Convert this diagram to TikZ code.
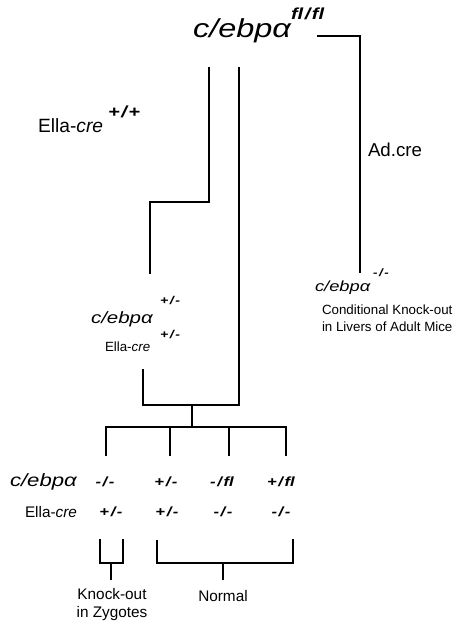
\documentclass[tikz,border=0pt]{standalone}
\usepackage{fontspec}
\setmainfont{Liberation Sans}
\newfontfamily\wsf[FakeStretch=1.25]{Liberation Sans}
\tikzset{
  lbl/.style={inner sep=0pt, outer sep=0pt},
  gene/.style={lbl, font=\wsf\itshape},
  geno/.style={lbl, font=\wsf\bfseries\itshape\fontsize{10}{12}\selectfont},
  pline/.style={line width=1pt, line cap=rect}
}
\newcommand{\sep}{\kern1.2pt/\kern1.2pt}
\begin{document}
\begin{tikzpicture}[x=0.75pt,y=-0.75pt]
\useasboundingbox (0,0) rectangle (473,624);
% top parent
\node[gene, anchor=base west, font=\wsf\itshape\fontsize{19.5}{22}\selectfont] (top) at (193,38) {c/ebp\char"03B1};
\node[geno, anchor=west, font=\wsf\bfseries\itshape\fontsize{12}{14}\selectfont] (topsup) at (291,14) {f{}l\sep f{}l};
% Ad.cre branch
\coordinate (a1) at (318,36);
\coordinate (a2) at (360,36);
\coordinate (a3) at (360,272);
\draw[pline] (a1) -- (a2) -- (a3);
\node[lbl, font=\fontsize{14}{16}\selectfont] (adcre) at (395,150) {Ad.cre};
% conditional KO
\node[gene, anchor=base west, font=\wsf\itshape\fontsize{11}{13}\selectfont] (cko) at (315,291) {c/ebp\char"03B1};
\node[geno, anchor=west, font=\wsf\bfseries\itshape\fontsize{8}{9}\selectfont] (ckosup) at (373,273) {-\sep-};
\node[lbl, anchor=west, align=left, font=\fontsize{10}{13}\selectfont] (ckotxt) at (322,318) {Conditional Knock-out\\in Livers of Adult Mice};
% Ella-cre parent
\node[lbl, anchor=west, font=\fontsize{14.4}{16}\selectfont] (ella) at (38,126) {Ella-\textit{cre}};
\node[geno, anchor=west, font=\wsf\bfseries\itshape\fontsize{12}{14}\selectfont] (ellasup) at (108,112) {+\sep+};
% cross 1
\coordinate (b1) at (209,68);
\coordinate (b2) at (209,202);
\coordinate (b3) at (150,202);
\coordinate (b4) at (150,273);
\draw[pline] (b1) -- (b2) -- (b3) -- (b4);
% F1
\node[gene, anchor=base west, font=\wsf\itshape\fontsize{12.3}{14}\selectfont] (f1) at (91,323) {c/ebp\char"03B1};
\node[geno, anchor=west, font=\wsf\bfseries\itshape\fontsize{8.5}{10}\selectfont] (f1sup) at (160,301) {+\sep-};
\node[lbl, anchor=west, font=\fontsize{10}{12}\selectfont] (f1ella) at (105,347) {Ella-\textit{cre}};
\node[geno, anchor=west, font=\wsf\bfseries\itshape\fontsize{8.5}{10}\selectfont] (f1sup2) at (160,335) {+\sep-};
% cross 2
\coordinate (c1) at (239,68);
\coordinate (c2) at (239,405);
\coordinate (c3) at (143,405);
\coordinate (c4) at (143,370);
\coordinate (c5) at (192,405);
\coordinate (c6) at (192,427);
\draw[pline] (c1) -- (c2) -- (c3) -- (c4);
\draw[pline] (c5) -- (c6);
% offspring bar
\coordinate (d1) at (106,427);
\coordinate (d2) at (170,427);
\coordinate (d3) at (229,427);
\coordinate (d4) at (286,427);
\draw[pline] (d1) -- (d4);
\foreach \p/\q in {d1/e1,d2/e2,d3/e3,d4/e4}{
  \draw[pline] (\p) -- ++(0,28) coordinate (\q);
}
% genotype table
\node[gene, anchor=west, font=\wsf\itshape\fontsize{13.3}{15}\selectfont] (rowa) at (10,482) {c/ebp\char"03B1};
\node[lbl, anchor=west, font=\fontsize{11.5}{13}\selectfont] (rowb) at (25,512) {Ella-\textit{cre}};
\node[geno] (g11) at (105,482) {-\sep-};
\node[geno] (g12) at (166,482) {+\sep-};
\node[geno] (g13) at (222,482) {-\sep f{}l};
\node[geno] (g14) at (281,482) {+\sep f{}l};
\node[geno] (g21) at (111,512) {+\sep-};
\node[geno] (g22) at (167,512) {+\sep-};
\node[geno] (g23) at (223,512) {-\sep-};
\node[geno] (g24) at (281,512) {-\sep-};
% brackets
\coordinate (k1) at (100,540);
\coordinate (k2) at (100,563);
\coordinate (k3) at (123,563);
\coordinate (k4) at (123,540);
\coordinate (k5) at (111,563);
\coordinate (k6) at (111,579);
\draw[pline] (k1) -- (k2) -- (k3) -- (k4);
\draw[pline] (k5) -- (k6);
\coordinate (n1) at (157,541);
\coordinate (n2) at (157,563);
\coordinate (n3) at (293,563);
\coordinate (n4) at (293,540);
\coordinate (n5) at (223,563);
\coordinate (n6) at (223,579);
\draw[pline] (n1) -- (n2) -- (n3) -- (n4);
\draw[pline] (n5) -- (n6);
\node[lbl, align=center, font=\fontsize{11.5}{13.5}\selectfont] (kotxt) at (112,605) {Knock-out\\in Zygotes};
\node[lbl, font=\fontsize{11.5}{13.5}\selectfont] (normal) at (223,596) {Normal};
\end{tikzpicture}
\end{document}
